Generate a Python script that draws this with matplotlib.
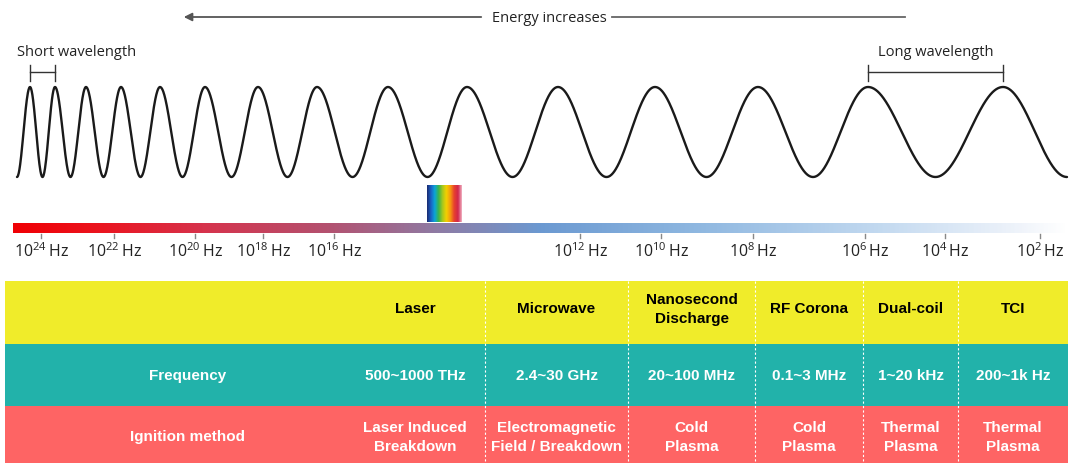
import numpy as np
import matplotlib
matplotlib.use('Agg')
import matplotlib.pyplot as plt
from matplotlib.colors import LinearSegmentedColormap

plt.rcParams['font.family'] = ['Open Sans', 'DejaVu Sans']
plt.rcParams['mathtext.default'] = 'regular'

# ---- data ----
tick_exps = [24, 22, 20, 18, 16, 12, 10, 8, 6, 4, 2]
methods = ['Laser', 'Microwave', 'Nanosecond\nDischarge', 'RF Corona', 'Dual-coil', 'TCI']
frequencies = ['500~1000 THz', '2.4~30 GHz', '20~100 MHz', '0.1~3 MHz', '1~20 kHz', '200~1k Hz']
ignition = ['Laser Induced\nBreakdown', 'Electromagnetic\nField / Breakdown', 'Cold\nPlasma',
            'Cold\nPlasma', 'Thermal\nPlasma', 'Thermal\nPlasma']
row_labels = ['', 'Frequency', 'Ignition method']

# wave crest positions (pixels), wavelength grows to the right
wave_peaks = [30, 55, 86, 121, 160, 205, 258, 317, 388, 467, 558, 655, 758, 868, 1003]

# ---- layout (pixel coords) ----
W, H = 1070, 464
tick_x = [41, 114, 195, 263, 334, 580, 661, 753, 865, 945, 1040]
col_edges = [345, 485, 628, 755, 863, 958, 1068]
row_edges = [282, 345, 407, 464]
row_colors = ['#F0EC2A', '#22B2AA', '#FE6464']
row_text = ['black', 'white', 'white']
row_shift = [-4, 0, 2]

fig = plt.figure(figsize=(W / 100, H / 100), dpi=100)
ax = fig.add_axes([0, 0, 1, 1])

# wave
x = np.linspace(17, 1067, 3000)
knots = [17] + wave_peaks + [1067]
phase_k = [-np.pi] + [2 * np.pi * i for i in range(len(wave_peaks))] + [2 * np.pi * (len(wave_peaks) - 1) + np.pi]
phase = np.interp(x, knots, phase_k)
ax.plot(x, 133 - 45 * np.cos(phase), color='#1a1a1a', lw=1.7, solid_capstyle='round')

# energy arrow
ax.annotate('', xy=(181, 18), xytext=(484, 18),
            arrowprops=dict(arrowstyle='-|>', color='#555555', lw=1.3, mutation_scale=12))
ax.plot([612, 905], [18, 18], color='#666666', lw=1.3)
ax.text(549, 18, 'Energy increases', ha='center', va='center', fontsize=10.5, color='#222222')

# wavelength brackets
ax.text(17, 52, 'Short wavelength', ha='left', va='center', fontsize=10.5, color='#222222')
ax.text(936, 52, 'Long wavelength', ha='center', va='center', fontsize=10.5, color='#222222')
for a, b in [(wave_peaks[0], wave_peaks[1]), (wave_peaks[-2], wave_peaks[-1])]:
    ax.plot([a, b], [73, 73], color='#333333', lw=1)
    ax.plot([a, a], [66, 82], color='#333333', lw=1)
    ax.plot([b, b], [66, 82], color='#333333', lw=1)

# spectrum gradient bar
spec = LinearSegmentedColormap.from_list('spec', [
    (0.0, (0.94, 0.0, 0.02)),
    (0.08, (0.92, 0.08, 0.12)),
    (0.18, (0.84, 0.2, 0.3)),
    (0.30, (0.7, 0.32, 0.44)),
    (0.40, (0.56, 0.48, 0.64)),
    (0.50, (0.42, 0.6, 0.82)),
    (0.65, (0.56, 0.72, 0.88)),
    (0.82, (0.76, 0.85, 0.94)),
    (0.95, (0.93, 0.95, 0.98)),
    (1.0, (1.0, 1.0, 1.0)),
])
ax.imshow(np.linspace(0, 1, 512)[None, :], cmap=spec, extent=[13, 1068, 234, 224],
          aspect='auto', interpolation='bilinear')

# visible light block
vis = LinearSegmentedColormap.from_list('vis', [
    '#1a2a6e', '#1b5fc4', '#0aa6d8', '#3cb44a', '#a8c81e', '#f4d000',
    '#f59a10', '#e8402e', '#d0264c', '#f2b4c4'])
ax.imshow(np.linspace(0, 1, 256)[None, :], cmap=vis, extent=[427, 462, 223, 187],
          aspect='auto', interpolation='bilinear')

# frequency ticks
for tx, e in zip(tick_x, tick_exps):
    ax.plot([tx, tx], [235, 239], color='#888888', lw=1)
    ax.text(tx, 252, '10$^{%d}\\,$Hz' % e, ha='center', va='center', fontsize=11.5, color='#222222')

# table
for r in range(3):
    ax.add_patch(plt.Rectangle((5, row_edges[r]), 1063, row_edges[r + 1] - row_edges[r],
                               color=row_colors[r], lw=0))
for cx in col_edges[1:-1]:
    ax.plot([cx, cx], [row_edges[0], row_edges[-1]], color='white', lw=0.8, ls=(0, (2, 2)))

cells = [methods, frequencies, ignition]
for r in range(3):
    yc = (row_edges[r] + row_edges[r + 1]) / 2 + row_shift[r]
    if row_labels[r]:
        ax.text(188, yc, row_labels[r], ha='center', va='center', fontsize=11,
                fontweight='bold', color=row_text[r], family='Liberation Sans')
    for c in range(6):
        xc = (col_edges[c] + col_edges[c + 1]) / 2
        ax.text(xc, yc, cells[r][c], ha='center', va='center', fontsize=11, fontweight='bold',
                color=row_text[r], family='Liberation Sans', linespacing=1.4)

ax.set_xlim(0, W)
ax.set_ylim(H, 0)
ax.axis('off')

fig.savefig('out.png', dpi=100)
